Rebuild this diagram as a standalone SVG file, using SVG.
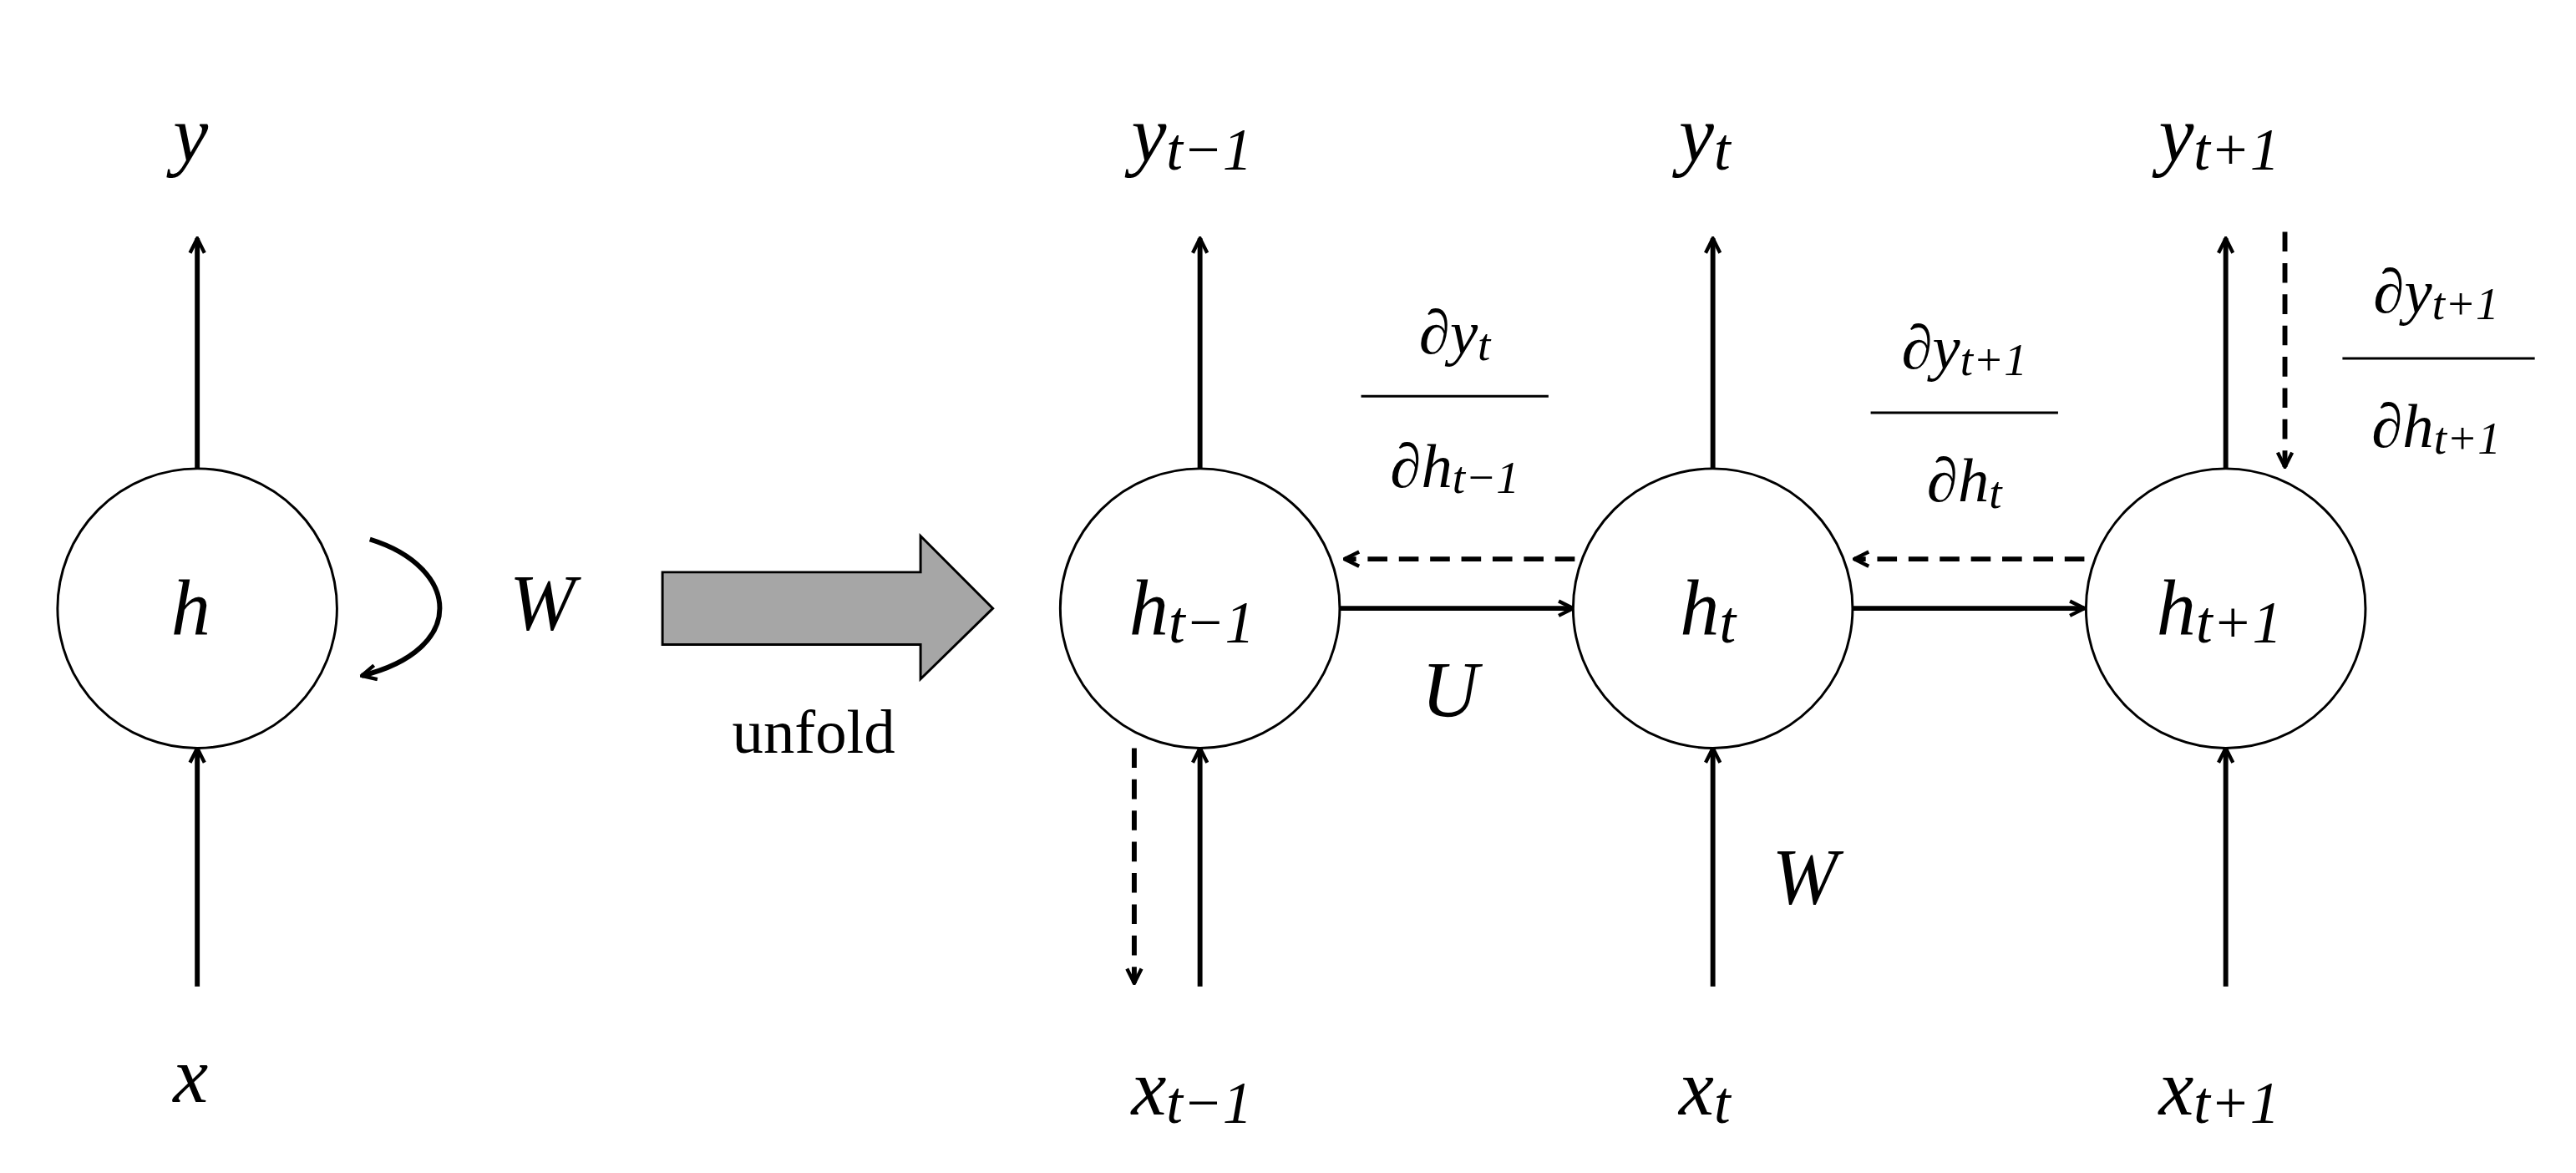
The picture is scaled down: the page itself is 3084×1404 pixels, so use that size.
<svg xmlns="http://www.w3.org/2000/svg" width="3084" height="1404" viewBox="0 0 3084 1404">
<defs>
<marker id="ah" viewBox="0 0 20 20" refX="18" refY="10" markerWidth="22" markerHeight="22" markerUnits="userSpaceOnUse" orient="auto">
<path d="M2,2 L18,10 L2,18" fill="none" stroke="#000" stroke-width="4"/>
</marker>
</defs>
<style>
.n{fill:#fff;stroke:#000;stroke-width:3}
.l{stroke:#000;stroke-width:6;fill:none;marker-end:url(#ah)}
.d{stroke-dasharray:24 14}
.m{font-family:"Liberation Serif",serif;font-style:italic;font-size:96px;text-anchor:middle}
.s{font-size:72px}
.f{font-family:"Liberation Serif",serif;font-style:italic;font-size:76px;text-anchor:middle}
.fs{font-size:56px}
</style>
<rect width="3084" height="1404" fill="#fff"/>
<g transform="scale(0.984)">
<g id="connectors">
<line class="l" x1="240" y1="570" x2="240" y2="290"/>
<line class="l" x1="240" y1="1200" x2="240" y2="910"/>
<path class="l" d="M450,656 C560,690 570,790 440,822"/>
<line class="l" x1="1460" y1="570" x2="1460" y2="290"/>
<line class="l" x1="1460" y1="1200" x2="1460" y2="910"/>
<line class="l" x1="2084" y1="570" x2="2084" y2="290"/>
<line class="l" x1="2084" y1="1200" x2="2084" y2="910"/>
<line class="l" x1="2708" y1="570" x2="2708" y2="290"/>
<line class="l" x1="2708" y1="1200" x2="2708" y2="910"/>
<line class="l" x1="1630" y1="740" x2="1914" y2="740"/>
<line class="l" x1="2254" y1="740" x2="2536" y2="740"/>
<line class="l d" x1="1916" y1="680" x2="1636" y2="680"/>
<line class="l d" x1="2536" y1="680" x2="2256" y2="680"/>
<line class="l d" x1="1380" y1="910" x2="1380" y2="1196"/>
<line class="l d" x1="2780" y1="282" x2="2780" y2="568"/>
<polygon points="806,696 1120,696 1120,652 1208,740 1120,826 1120,784 806,784" fill="#a6a6a6" stroke="#000" stroke-width="3"/>
</g>
<g id="h"><circle class="n" cx="240" cy="740" r="170"/><text class="m" x="232" y="772">h</text></g>
<g id="ht1"><circle class="n" cx="1460" cy="740" r="170"/><text class="m" x="1450" y="772">h<tspan class="s" dy="10">t−1</tspan></text></g>
<g id="ht"><circle class="n" cx="2084" cy="740" r="170"/><text class="m" x="2078" y="772">h<tspan class="s" dy="10">t</tspan></text></g>
<g id="ht2"><circle class="n" cx="2708" cy="740" r="170"/><text class="m" x="2700" y="772">h<tspan class="s" dy="10">t+1</tspan></text></g>
<g id="labels">
<text class="m" x="232" y="196">y</text>
<text class="m" x="232" y="1340">x</text>
<text class="m" x="660" y="766">W</text>
<text class="m" x="1764" y="872">U</text>
<text class="m" x="2196" y="1100">W</text>
<text x="990" y="916" font-family="Liberation Serif,serif" font-size="76" text-anchor="middle">unfold</text>
<text class="m" x="1450" y="196">y<tspan class="s" dy="10">t−1</tspan></text>
<text class="m" x="2074" y="196">y<tspan class="s" dy="10">t</tspan></text>
<text class="m" x="2700" y="196">y<tspan class="s" dy="10">t+1</tspan></text>
<text class="m" x="1450" y="1356">x<tspan class="s" dy="10">t−1</tspan></text>
<text class="m" x="2074" y="1356">x<tspan class="s" dy="10">t</tspan></text>
<text class="m" x="2700" y="1356">x<tspan class="s" dy="10">t+1</tspan></text>
</g>
<g id="frac1"><text class="f" x="1770" y="430">∂y<tspan class="fs" dy="8">t</tspan></text><line x1="1656" y1="482" x2="1884" y2="482" stroke="#000" stroke-width="3"/><text class="f" x="1770" y="592">∂h<tspan class="fs" dy="8">t−1</tspan></text></g>
<g id="frac2"><text class="f" x="2390" y="448">∂y<tspan class="fs" dy="8">t+1</tspan></text><line x1="2276" y1="502" x2="2504" y2="502" stroke="#000" stroke-width="3"/><text class="f" x="2390" y="610">∂h<tspan class="fs" dy="8">t</tspan></text></g>
<g id="frac3"><text class="f" x="2964" y="380">∂y<tspan class="fs" dy="8">t+1</tspan></text><line x1="2850" y1="436" x2="3084" y2="436" stroke="#000" stroke-width="3"/><text class="f" x="2964" y="544">∂h<tspan class="fs" dy="8">t+1</tspan></text></g>
</g>
</svg>
